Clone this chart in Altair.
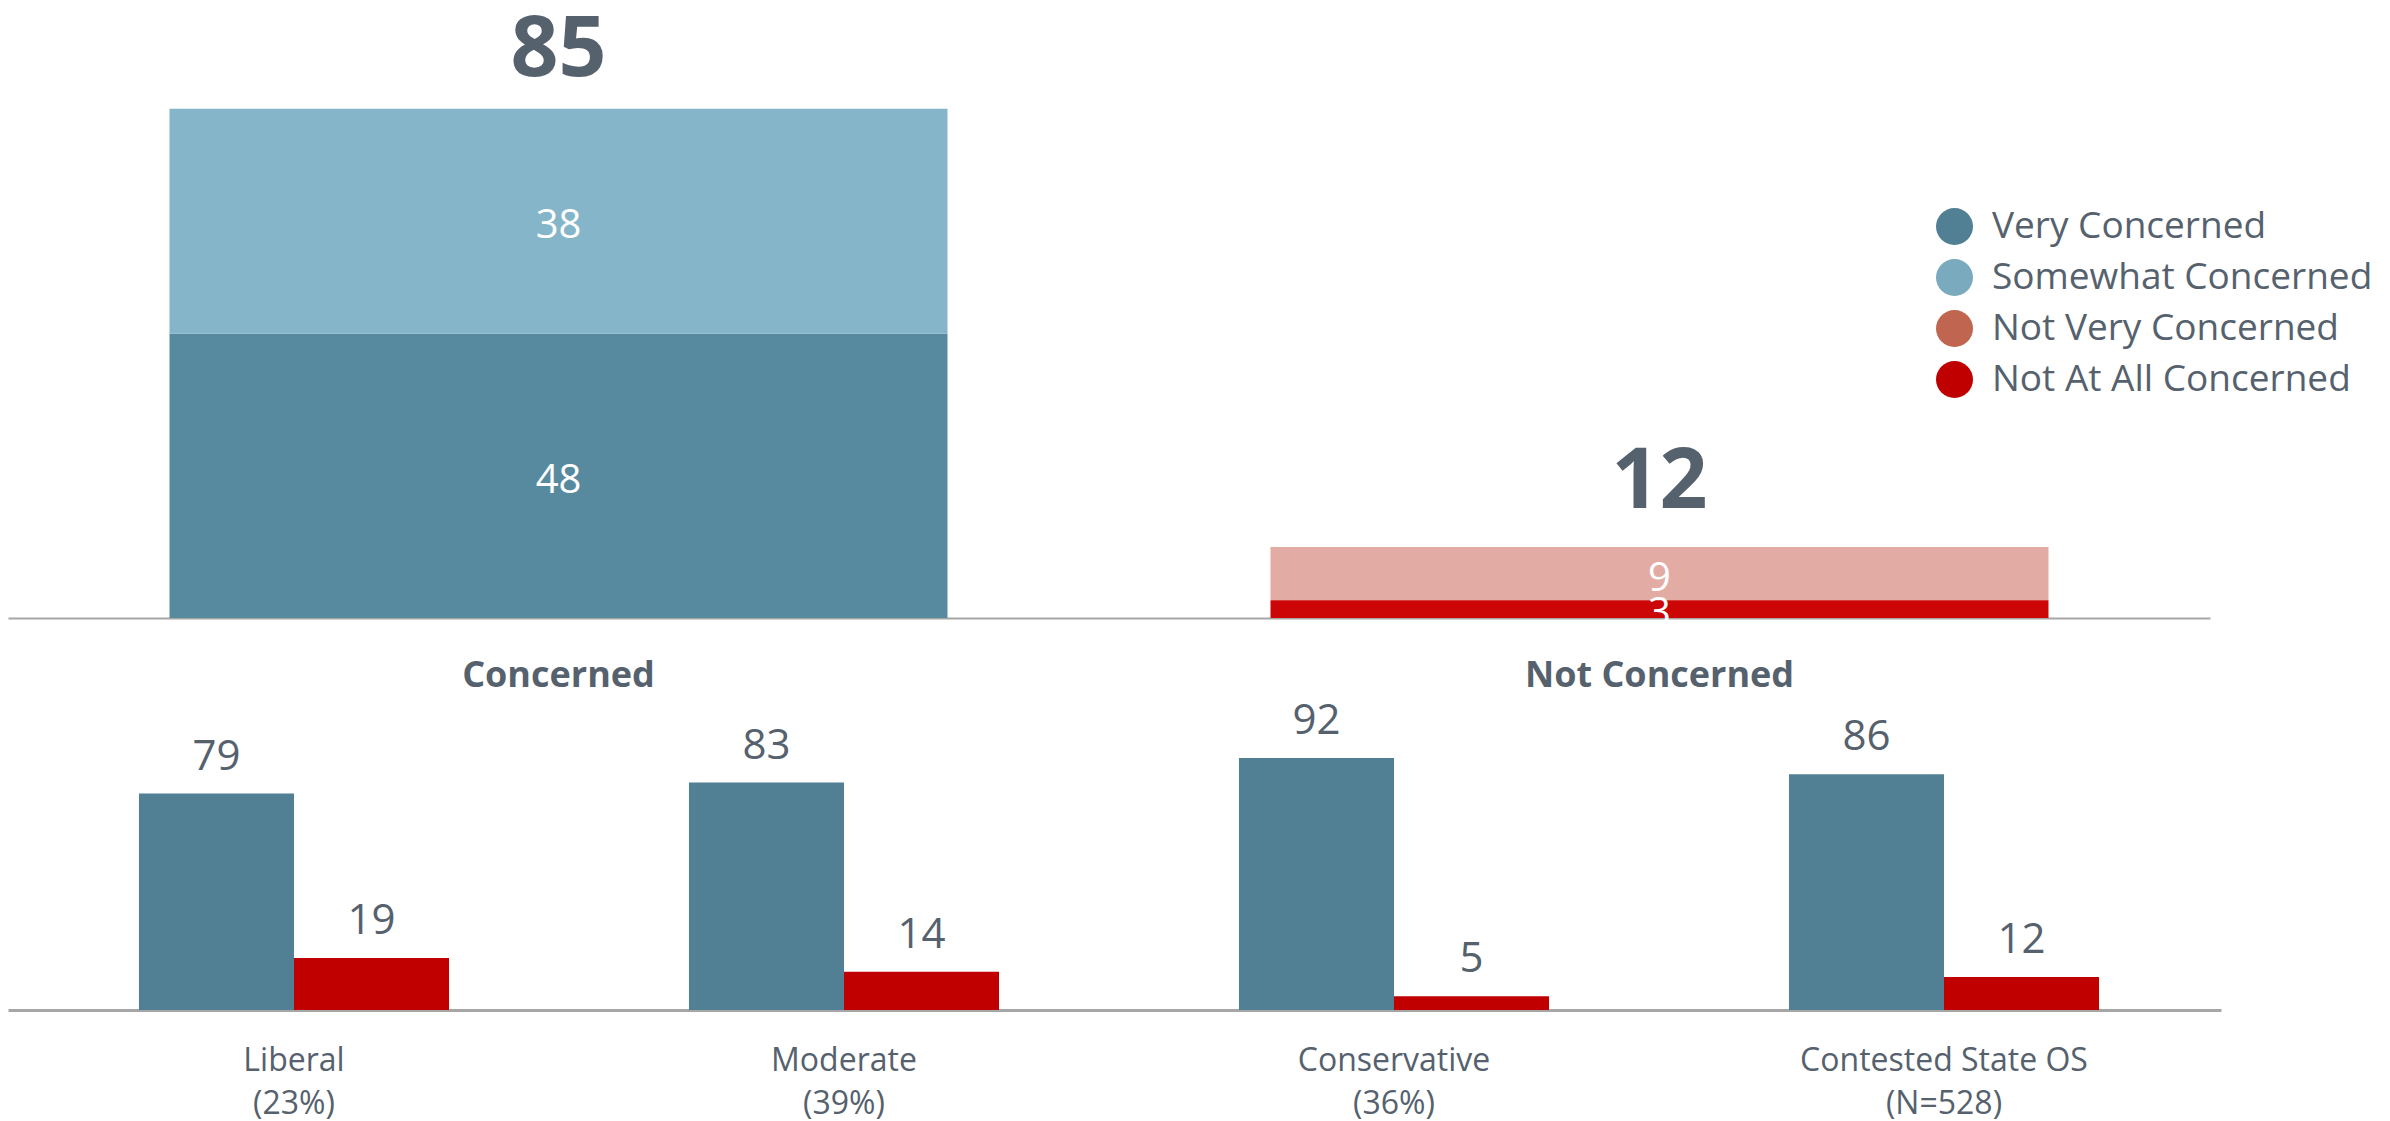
import altair as alt
import pandas as pd

FONT = "Open Sans"
TEXT = "#56616e"

# ---- top chart data ----
top_categories = ["Concerned", "Not Concerned"]
segment_names = ["Very Concerned", "Somewhat Concerned", "Not Very Concerned", "Not At All Concerned"]
segment_category = ["Concerned", "Concerned", "Not Concerned", "Not Concerned"]
segment_values = [48, 38, 9, 3]
segment_order = [0, 1, 1, 0]
top_totals = [85, 12]

legend_colors = ["#517f93", "#7aaabd", "#c0654f", "#c00000"]
bar_colors = ["#588a9f", "#85b5c8", "#e2aba4", "#cc0606"]

# ---- bottom chart data ----
groups = ["Liberal", "Moderate", "Conservative", "Contested State OS"]
group_sub = ["(23%)", "(39%)", "(36%)", "(N=528)"]
series_names = ["Concerned", "Not Concerned"]
concerned_vals = [79, 83, 92, 86]
not_concerned_vals = [19, 14, 5, 12]
series_colors = ["#517f93", "#c00000"]

top_df = pd.DataFrame({
    "category": segment_category,
    "segment": segment_names,
    "value": segment_values,
    "ord": segment_order,
})
tot_df = pd.DataFrame({"category": top_categories, "total": top_totals})

group_keys = [g + "|" + s for g, s in zip(groups, group_sub)]
rows = []
for k, c, n in zip(group_keys, concerned_vals, not_concerned_vals):
    rows.append({"grp": k, "series": series_names[0], "value": c})
    rows.append({"grp": k, "series": series_names[1], "value": n})
bot_df = pd.DataFrame(rows)

top_x = alt.X(
    "category:N", sort=top_categories,
    scale=alt.Scale(paddingInner=0, paddingOuter=0),
    axis=alt.Axis(title=None, ticks=False, tickSize=0, labelAngle=0,
                  labelPadding=40, labelFontSize=36, labelFontWeight="bold",
                  labelFont=FONT, labelColor=TEXT, domainColor="#a6a6a6",
                  domainWidth=2, grid=False, labelLimit=1000),
)
top_y_scale = alt.Scale(domain=[0, 101.35], nice=False, zero=True)

base = alt.Chart(top_df).transform_stack(
    stack="value", groupby=["category"], as_=["y0", "y1"],
    sort=[alt.SortField("ord", order="ascending")],
).transform_calculate(
    mid="(datum.y0 + datum.y1) / 2",
    key="datum.segment",
)

top_bars = base.mark_bar(size=778).encode(
    x=top_x,
    y=alt.Y("y0:Q", scale=top_y_scale, axis=None),
    y2="y1:Q",
    color=alt.Color(
        "segment:N",
        scale=alt.Scale(domain=segment_names, range=bar_colors),
        legend=None,
    ),
)

# zero-height layer that only carries the legend (legend colours)
legend_layer = base.mark_bar(size=778).encode(
    x=alt.X("category:N", sort=top_categories),
    y=alt.Y("y1:Q", scale=top_y_scale),
    y2="y1:Q",
    color=alt.Color(
        "key:N",
        scale=alt.Scale(domain=segment_names, range=legend_colors),
        legend=alt.Legend(
            title=None, orient="none", legendX=1928, legendY=190,
            symbolType="circle", symbolSize=1369, symbolStrokeWidth=0,
            symbolOpacity=1, labelFontSize=37, labelFont=FONT,
            labelColor=TEXT, labelOffset=19, rowPadding=13, padding=0,
            labelLimit=600,
        ),
    ),
)

seg_labels = base.mark_text(
    color="white", fontSize=40, font=FONT, baseline="middle", dy=5
).encode(
    x=alt.X("category:N", sort=top_categories),
    y=alt.Y("mid:Q", scale=top_y_scale),
    text=alt.Text("value:Q"),
)

tot_labels = alt.Chart(tot_df).mark_text(
    color=TEXT, fontSize=84, fontWeight="bold", font=FONT,
    baseline="alphabetic", dy=-39
).encode(
    x=alt.X("category:N", sort=top_categories),
    y=alt.Y("total:Q", scale=top_y_scale),
    text=alt.Text("total:Q"),
)

top = alt.layer(top_bars, legend_layer, seg_labels, tot_labels).resolve_scale(
    color="independent"
).properties(width=2202, height=600)

bot_x = alt.X(
    "grp:N", sort=group_keys,
    scale=alt.Scale(paddingInner=0, paddingOuter=0.0118, align=0.846),
    axis=alt.Axis(title=None, ticks=False, tickSize=0, labelAngle=0,
                  labelPadding=35, labelFontSize=32, labelFont=FONT,
                  labelColor=TEXT, labelLineHeight=43, labelLimit=1000,
                  labelExpr="split(datum.label, '|')",
                  domainColor="#a6a6a6", domainWidth=3, grid=False),
)
bot_xoff = alt.XOffset(
    "series:N", sort=series_names,
    scale=alt.Scale(paddingInner=0, paddingOuter=0.774),
)
bot_y_scale = alt.Scale(domain=[0, 111.3], nice=False)

bot_bars = alt.Chart(bot_df).mark_bar().encode(
    x=bot_x,
    xOffset=bot_xoff,
    y=alt.Y("value:Q", scale=bot_y_scale, axis=None),
    color=alt.Color("series:N", scale=alt.Scale(domain=series_names, range=series_colors), legend=None),
)
bot_labels = alt.Chart(bot_df).mark_text(
    color=TEXT, fontSize=42, font=FONT, baseline="alphabetic", dy=-24
).encode(
    x=alt.X("grp:N", sort=group_keys),
    xOffset=bot_xoff,
    y=alt.Y("value:Q", scale=bot_y_scale),
    text=alt.Text("value:Q"),
)
bottom = alt.layer(bot_bars, bot_labels).properties(width=2213, height=305)

chart = alt.vconcat(top, bottom, spacing=6).resolve_scale(
    color="independent"
).properties(
    padding={"left": 0, "top": 0, "right": 0, "bottom": 0}
).configure(font=FONT).configure_view(strokeWidth=0, stroke="transparent")

chart.save("out.html", embed_options={"renderer": "svg", "actions": False})
